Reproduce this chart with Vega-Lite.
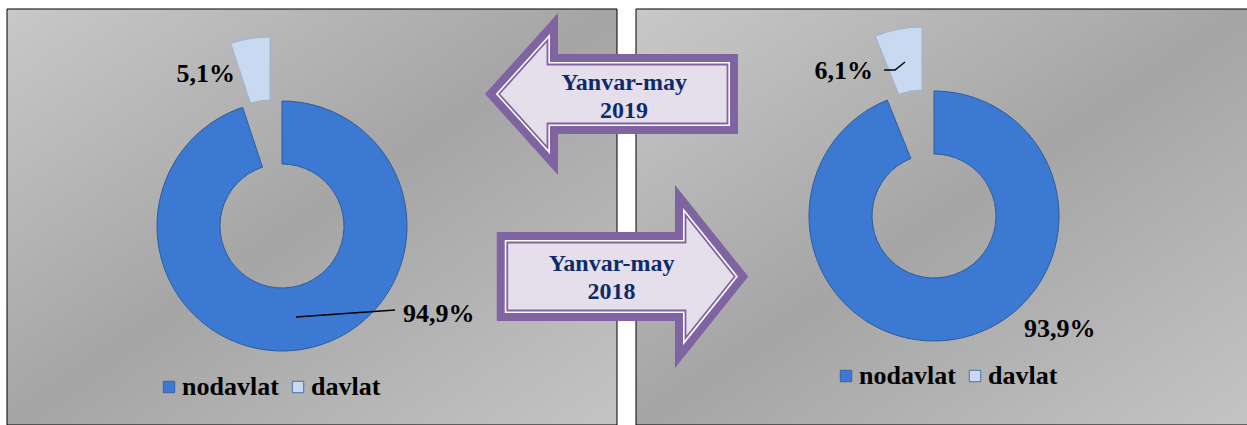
{
  "$schema": "https://vega.github.io/schema/vega-lite/v6.json",
  "width": 1240,
  "height": 416,
  "autosize": {"type": "none"},
  "padding": {"left": 7, "top": 9, "right": 0, "bottom": 0},
  "background": "#ffffff",
  "config": {"view": {"stroke": null}, "font": "Liberation Serif"},
  "datasets": {
    "shares": [
      {"period": "2019", "seg": "nodavlat", "value": 94.9, "ord": 1, "pct": "94,9%"},
      {"period": "2019", "seg": "davlat", "value": 5.1, "ord": 2, "pct": "5,1%"},
      {"period": "2018", "seg": "nodavlat", "value": 93.9, "ord": 1, "pct": "93,9%"},
      {"period": "2018", "seg": "davlat", "value": 6.1, "ord": 2, "pct": "6,1%"}
    ],
    "periods": [
      {"period": "2019", "label": "Yanvar-may\n2019"},
      {"period": "2018", "label": "Yanvar-may\n2018"}
    ]
  },
  "data": {"name": "periods"},
  "encoding": {
    "x": {"field": "period", "type": "nominal", "axis": null, "scale": {"type": "point", "domain": ["2019", "2018"], "range": [275, 927], "padding": 0}},
    "y": {"field": "period", "type": "nominal", "axis": null, "scale": {"type": "point", "domain": ["2019", "2018"], "range": [217, 207], "padding": 0}}
  },
  "layer": [
    {
      "transform": [{"filter": "datum.period==='2019'"}],
      "mark": {"type": "point", "shape": "M-1 -0.682L1 -0.682L1 0.682L-1 0.682Z", "size": 372100, "filled": true, "opacity": 1,
        "fill": {"gradient": "linear", "x1": 0, "y1": 0, "x2": 1, "y2": 1, "stops": [{"offset": 0, "color": "#c8c8c8"}, {"offset": 0.5, "color": "#a5a5a5"}, {"offset": 1, "color": "#c4c4c4"}]},
        "stroke": "#000000", "strokeWidth": 1, "xOffset": 30, "yOffset": -9}
    },
    {
      "transform": [{"filter": "datum.period==='2018'"}],
      "mark": {"type": "point", "shape": "M-1.0098 -0.682L1.0098 -0.682L1.0098 0.682L-1.0098 0.682Z", "size": 372100, "filled": true, "opacity": 1,
        "fill": {"gradient": "linear", "x1": 0, "y1": 0, "x2": 1, "y2": 1, "stops": [{"offset": 0, "color": "#c8c8c8"}, {"offset": 0.5, "color": "#a5a5a5"}, {"offset": 1, "color": "#c4c4c4"}]},
        "stroke": "#000000", "strokeWidth": 1, "xOffset": 10, "yOffset": 1}
    },
    {
      "data": {"name": "shares"},
      "transform": [
        {"filter": "datum.period==='2019'"},
        {"stack": "value", "groupby": ["period"], "sort": [{"field": "ord", "order": "ascending"}], "as": ["t0", "t1"]}
      ],
      "encoding": {
        "theta": {"field": "t0", "type": "quantitative", "stack": null, "scale": {"domain": [0, 100]}},
        "theta2": {"field": "t1"},
        "color": {"field": "seg", "type": "nominal", "scale": {"domain": ["nodavlat", "davlat"], "range": ["#3b79d3", "#c8daf1"]},
          "legend": {"orient": "none", "legendX": 149, "legendY": 365, "padding": 0, "direction": "horizontal", "title": null, "symbolType": "square", "symbolSize": 130,
            "labelFont": "Liberation Serif", "labelFontSize": 26, "labelFontWeight": "bold", "labelColor": "#000000", "labelOffset": 0, "columnPadding": 6,
            "symbolStrokeColor": "#2c5c9c", "symbolStrokeWidth": 0.8, "labelLimit": 0}}
      },
      "layer": [
        {"transform": [{"filter": "datum.seg==='nodavlat'"}], "mark": {"type": "arc", "outerRadius": 125, "innerRadius": 62, "stroke": "#2c5c9c", "strokeWidth": 1}},
        {"transform": [{"filter": "datum.seg==='davlat'"}], "mark": {"type": "arc", "outerRadius": 125, "innerRadius": 62, "stroke": "#9db3cf", "strokeWidth": 1, "xOffset": -12, "yOffset": -64}}
      ]
    },
    {
      "data": {"name": "shares"},
      "transform": [
        {"filter": "datum.period==='2018'"},
        {"stack": "value", "groupby": ["period"], "sort": [{"field": "ord", "order": "ascending"}], "as": ["t0", "t1"]}
      ],
      "encoding": {
        "theta": {"field": "t0", "type": "quantitative", "stack": null, "scale": {"domain": [0, 100]}},
        "theta2": {"field": "t1"},
        "color": {"field": "seg", "type": "nominal", "scale": {"domain": ["nodavlat", "davlat"], "range": ["#3b79d3", "#c8daf1"]},
          "legend": {"orient": "none", "legendX": 826, "legendY": 354, "padding": 0, "direction": "horizontal", "title": null, "symbolType": "square", "symbolSize": 130,
            "labelFont": "Liberation Serif", "labelFontSize": 26, "labelFontWeight": "bold", "labelColor": "#000000", "labelOffset": 0, "columnPadding": 6,
            "symbolStrokeColor": "#2c5c9c", "symbolStrokeWidth": 0.8, "labelLimit": 0}}
      },
      "layer": [
        {"transform": [{"filter": "datum.seg==='nodavlat'"}], "mark": {"type": "arc", "outerRadius": 125, "innerRadius": 62, "stroke": "#2c5c9c", "strokeWidth": 1}},
        {"transform": [{"filter": "datum.seg==='davlat'"}], "mark": {"type": "arc", "outerRadius": 125, "innerRadius": 62, "stroke": "#9db3cf", "strokeWidth": 1, "xOffset": -12, "yOffset": -64}}
      ]
    },
    {
      "data": {"name": "shares"},
      "transform": [{"filter": "datum.period==='2019' && datum.seg==='davlat'"}],
      "mark": {"type": "text", "align": "right", "baseline": "alphabetic", "font": "Liberation Serif", "fontSize": 26, "fontWeight": "bold", "fill": "#000000", "xOffset": -47, "yOffset": -144},
      "encoding": {"text": {"field": "pct"}}
    },
    {
      "data": {"name": "shares"},
      "transform": [{"filter": "datum.period==='2019' && datum.seg==='nodavlat'"}],
      "mark": {"type": "text", "align": "left", "baseline": "alphabetic", "font": "Liberation Serif", "fontSize": 26, "fontWeight": "bold", "fill": "#000000", "xOffset": 121, "yOffset": 96},
      "encoding": {"text": {"field": "pct"}}
    },
    {
      "data": {"name": "shares"},
      "transform": [{"filter": "datum.period==='2018' && datum.seg==='davlat'"}],
      "mark": {"type": "text", "align": "right", "baseline": "alphabetic", "font": "Liberation Serif", "fontSize": 26, "fontWeight": "bold", "fill": "#000000", "xOffset": -61, "yOffset": -137},
      "encoding": {"text": {"field": "pct"}}
    },
    {
      "data": {"name": "shares"},
      "transform": [{"filter": "datum.period==='2018' && datum.seg==='nodavlat'"}],
      "mark": {"type": "text", "align": "left", "baseline": "alphabetic", "font": "Liberation Serif", "fontSize": 26, "fontWeight": "bold", "fill": "#000000", "xOffset": 90, "yOffset": 121},
      "encoding": {"text": {"field": "pct"}}
    },
    {
      "transform": [{"filter": "datum.period==='2019'"}],
      "mark": {"type": "point", "shape": "M-0.99 0.07L0.99 -0.07", "size": 10000, "filled": false, "stroke": "#000000", "strokeWidth": 1.5, "opacity": 1, "xOffset": 63.5, "yOffset": 87.5}
    },
    {
      "transform": [{"filter": "datum.period==='2018'"}],
      "mark": {"type": "point", "shape": "M-0.84 0.32L0.04 0.32L0.84 -0.32", "size": 625, "filled": false, "stroke": "#000000", "strokeWidth": 1.5, "opacity": 1, "xOffset": -39.5, "yOffset": -150}
    },
    {
      "transform": [{"filter": "datum.period==='2019'"}],
      "mark": {"type": "point", "shape": "M-1.012 0L-0.428 -0.648L-0.428 -0.32L1.012 -0.32L1.012 0.32L-0.428 0.32L-0.428 0.648Z", "size": 62500, "filled": true, "fill": "#8064a2", "opacity": 1, "xOffset": 329.5, "yOffset": -132}
    },
    {
      "transform": [{"filter": "datum.period==='2019'"}],
      "mark": {"type": "point", "shape": "M-0.926 0L-0.492 -0.482L-0.492 -0.256L0.948 -0.256L0.948 0.256L-0.492 0.256L-0.492 0.482Z", "size": 62500, "filled": true, "fill": "#ffffff", "opacity": 1, "xOffset": 329.5, "yOffset": -132}
    },
    {
      "transform": [{"filter": "datum.period==='2019'"}],
      "mark": {"type": "point", "shape": "M-0.899 0L-0.512 -0.43L-0.512 -0.236L0.928 -0.236L0.928 0.236L-0.512 0.236L-0.512 0.43Z", "size": 62500, "filled": true, "fill": "#e5dfec", "stroke": "#8064a2", "strokeWidth": 1.8, "opacity": 1, "xOffset": 329.5, "yOffset": -132}
    },
    {
      "transform": [{"filter": "datum.period==='2018'"}],
      "mark": {"type": "point", "shape": "M1.006 0L0.42 -0.732L0.42 -0.356L-1.006 -0.356L-1.006 0.356L0.42 0.356L0.42 0.732Z", "size": 62500, "filled": true, "fill": "#8064a2", "opacity": 1, "xOffset": -311.5, "yOffset": 60.5}
    },
    {
      "transform": [{"filter": "datum.period==='2018'"}],
      "mark": {"type": "point", "shape": "M0.924 0L0.484 -0.549L0.484 -0.292L-0.942 -0.292L-0.942 0.292L0.484 0.292L0.484 0.549Z", "size": 62500, "filled": true, "fill": "#ffffff", "opacity": 1, "xOffset": -311.5, "yOffset": 60.5}
    },
    {
      "transform": [{"filter": "datum.period==='2018'"}],
      "mark": {"type": "point", "shape": "M0.898 0L0.504 -0.492L0.504 -0.272L-0.922 -0.272L-0.922 0.272L0.504 0.272L0.504 0.492Z", "size": 62500, "filled": true, "fill": "#e5dfec", "stroke": "#8064a2", "strokeWidth": 1.8, "opacity": 1, "xOffset": -311.5, "yOffset": 60.5}
    },
    {
      "transform": [{"filter": "datum.period==='2019'"}],
      "mark": {"type": "text", "lineBreak": "\n", "align": "center", "baseline": "alphabetic", "font": "Liberation Serif", "fontSize": 24, "fontWeight": "bold", "fill": "#0f2a6b", "lineHeight": 28, "xOffset": 342, "yOffset": -136},
      "encoding": {"text": {"field": "label"}}
    },
    {
      "transform": [{"filter": "datum.period==='2018'"}],
      "mark": {"type": "text", "lineBreak": "\n", "align": "center", "baseline": "alphabetic", "font": "Liberation Serif", "fontSize": 24, "fontWeight": "bold", "fill": "#0f2a6b", "lineHeight": 28, "xOffset": -322.5, "yOffset": 55},
      "encoding": {"text": {"field": "label"}}
    }
  ],
  "resolve": {"scale": {"color": "independent"}, "legend": {"color": "independent"}}
}
